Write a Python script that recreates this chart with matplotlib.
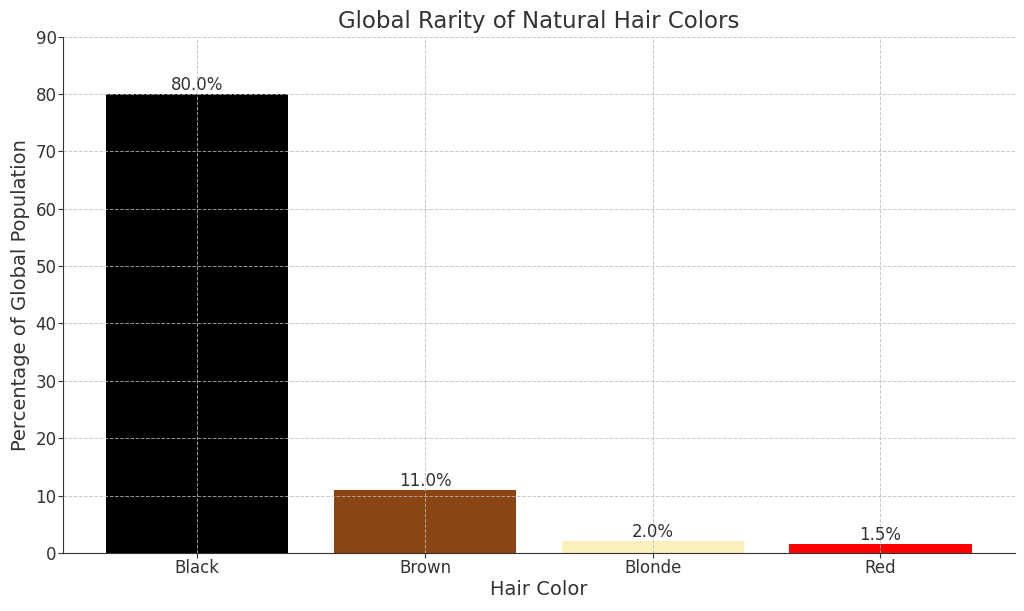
import matplotlib
matplotlib.use('Agg')
import matplotlib.pyplot as plt

# hair colors and share of global population (%)
hair_colors = ['Black', 'Brown', 'Blonde', 'Red']
percentages = [80.0, 11.0, 2.0, 1.5]
bar_colors = ['#000000', '#8B4513', '#FAF0BE', '#FF0000']

txt = '#333333'
plt.rcParams['text.color'] = txt
plt.rcParams['axes.labelcolor'] = txt
plt.rcParams['xtick.color'] = txt
plt.rcParams['ytick.color'] = txt

fig, ax = plt.subplots(figsize=(10.24, 6.11), dpi=100)
bars = ax.bar(hair_colors, percentages, color=bar_colors, width=0.8)

for b, v in zip(bars, percentages):
	ax.text(b.get_x() + b.get_width() / 2, v, f'{v:.1f}%', ha='center', va='bottom', fontsize=12)

ax.set_ylim(0, 90)
ax.set_title('Global Rarity of Natural Hair Colors', fontsize=16.5)
ax.set_xlabel('Hair Color', fontsize=14, labelpad=2)
ax.set_ylabel('Percentage of Global Population', fontsize=14)
ax.tick_params(labelsize=12, length=3.5, pad=1)
ax.spines['top'].set_visible(False)
ax.spines['right'].set_visible(False)
ax.spines['left'].set_color(txt)
ax.spines['bottom'].set_color(txt)
ax.set_axisbelow(False)
ax.grid(True, linestyle='--', color='#bbbbbb', linewidth=0.7, alpha=0.8)

plt.subplots_adjust(left=0.0615, right=0.991, top=0.94, bottom=0.095)
plt.savefig('out.png')
